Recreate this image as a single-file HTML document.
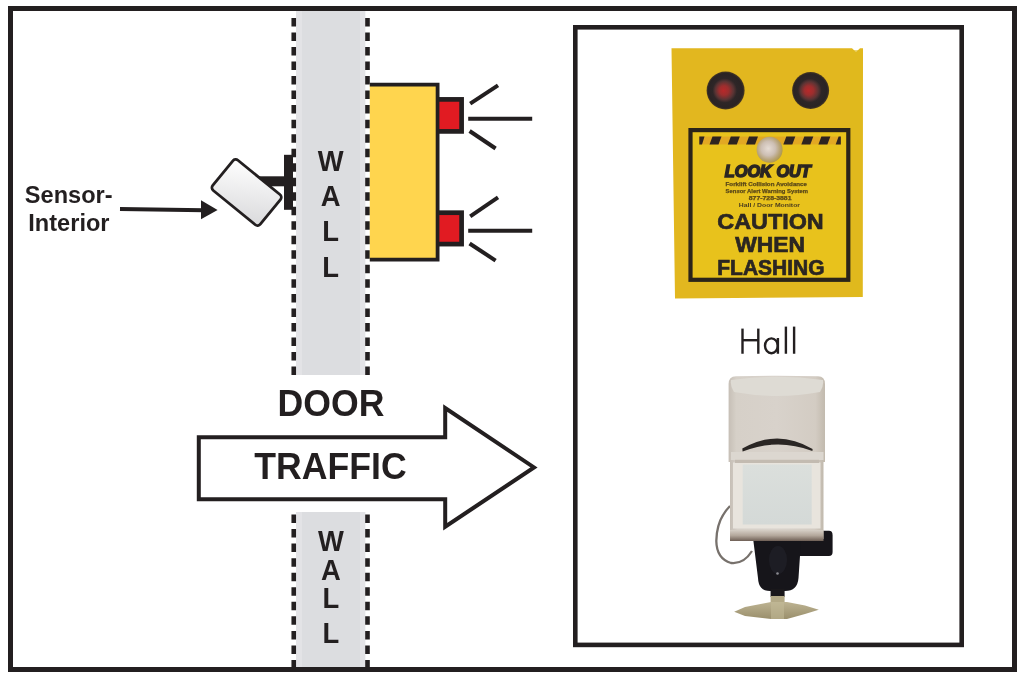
<!DOCTYPE html>
<html><head><meta charset="utf-8">
<style>
html,body{margin:0;padding:0;background:#fff;}
body{width:1024px;height:677px;overflow:hidden;position:relative;font-family:"Liberation Sans",sans-serif;}
svg{position:absolute;left:0;top:0;will-change:transform;}
</style></head>
<body>
<svg width="1024" height="677" viewBox="0 0 1024 677">
<defs>
<linearGradient id="sens" x1="0" y1="0" x2="1" y2="1">
<stop offset="0" stop-color="#ffffff"/><stop offset="1" stop-color="#d9d9db"/>
</linearGradient>
</defs>
<!-- upper wall -->
<rect x="296" y="11" width="69.2" height="364" fill="#dcdde0"/>
<rect x="296" y="11" width="6" height="364" fill="#e3e3e6"/>
<rect x="360" y="11" width="5.2" height="364" fill="#e3e3e6"/>
<line x1="293.75" y1="18" x2="293.75" y2="376" stroke="#231f20" stroke-width="4.6" stroke-dasharray="8.5 6.02"/>
<line x1="367.5" y1="18" x2="367.5" y2="376" stroke="#231f20" stroke-width="4.6" stroke-dasharray="8.5 6.02"/>
<!-- lower wall -->
<rect x="296" y="512" width="69.2" height="156" fill="#dcdde0"/>
<rect x="296" y="512" width="6" height="156" fill="#e3e3e6"/>
<rect x="360" y="512" width="5.2" height="156" fill="#e3e3e6"/>
<line x1="293.75" y1="514.5" x2="293.75" y2="668" stroke="#231f20" stroke-width="4.6" stroke-dasharray="8.5 6.05"/>
<line x1="367.5" y1="514.5" x2="367.5" y2="668" stroke="#231f20" stroke-width="4.6" stroke-dasharray="8.5 6.05"/>

<!-- yellow box -->
<path d="M369.8 84.6 H437.6 V259.6 H369.8" fill="#ffd54e" stroke="#231f20" stroke-width="3.8"/>
<!-- red lights -->
<rect x="437.6" y="97.05" width="26.35" height="36.7" fill="#231f20"/>
<rect x="439.4" y="101.75" width="19.85" height="27.3" fill="#e11b22"/>
<rect x="437.6" y="210.35" width="26.35" height="36.1" fill="#231f20"/>
<rect x="439.4" y="215.05" width="19.85" height="26.7" fill="#e11b22"/>
<g stroke="#231f20" stroke-width="4" fill="none">
<line x1="470.2" y1="103.6" x2="498" y2="85.3"/>
<line x1="468.2" y1="118.7" x2="532.2" y2="118.7"/>
<line x1="469.6" y1="131" x2="495.6" y2="148.5"/>
<line x1="470.2" y1="216.3" x2="498" y2="197.4"/>
<line x1="468.2" y1="230.8" x2="532.2" y2="230.8"/>
<line x1="469.6" y1="243.5" x2="495.6" y2="260.6"/>
</g>

<!-- wall text -->
<g font-family="'Liberation Sans', sans-serif" font-weight="bold" font-size="28.6" fill="#231f20" text-anchor="middle">
<text transform="translate(330.7 170.7) scale(0.958 1)">W</text>
<text transform="translate(330.7 206.3) scale(0.958 1)">A</text>
<text transform="translate(330.7 240.9) scale(0.958 1)">L</text>
<text transform="translate(330.7 277) scale(0.958 1)">L</text>
<text transform="translate(330.9 550.7) scale(0.958 1)">W</text>
<text transform="translate(330.9 580.3) scale(0.958 1)">A</text>
<text transform="translate(330.9 608.2) scale(0.958 1)">L</text>
<text transform="translate(330.9 643.4) scale(0.958 1)">L</text>
</g>

<!-- sensor mount -->
<rect x="256" y="176.3" width="30" height="10" fill="#231f20"/>
<rect x="284" y="154.8" width="9" height="55" fill="#231f20"/>
<g transform="translate(246.6 192.5) rotate(39.2)">
<rect x="-30.7" y="-19.5" width="61.4" height="39" rx="3.6" ry="3.6" fill="url(#sens)" stroke="#231f20" stroke-width="2.8"/>
</g>
<!-- pointer arrow -->
<line x1="120" y1="209" x2="204" y2="210.3" stroke="#231f20" stroke-width="4"/>
<polygon points="201,200.3 217.6,210 201,219.2" fill="#231f20"/>
<g font-family="'Liberation Sans', sans-serif" font-weight="bold" font-size="24.6" fill="#231f20" text-anchor="middle">
<text transform="translate(68.7 202.8) scale(0.958 1)">Sensor-</text>
<text transform="translate(68.9 231.2) scale(0.958 1)">Interior</text>
</g>

<!-- door arrow -->
<path d="M198.8 437.2 H445.2 V408.1 L534 467.4 L445.2 526.7 V499.2 H198.8 Z" fill="#fff" stroke="#231f20" stroke-width="4"/>
<g font-family="'Liberation Sans', sans-serif" font-weight="bold" font-size="37.2" fill="#231f20" text-anchor="middle">
<text transform="translate(331 416) scale(0.958 1)">DOOR</text>
<text transform="translate(330.5 479.3) scale(0.958 1)">TRAFFIC</text>
</g>

<!-- right panel box -->
<rect x="575.3" y="27.3" width="386.4" height="617.6" fill="none" stroke="#231f20" stroke-width="4.6"/>


<!-- ===== right panel: sign ===== -->
<defs>
<radialGradient id="lamp" cx="0.5" cy="0.5" r="0.5" fx="0.44" fy="0.5">
<stop offset="0" stop-color="#b8282a"/><stop offset="0.25" stop-color="#9c2e2e"/><stop offset="0.48" stop-color="#5a3434"/><stop offset="0.64" stop-color="#2e2627"/><stop offset="0.9" stop-color="#2a2324"/><stop offset="1" stop-color="#4a3a22"/>
</radialGradient>
<radialGradient id="coin" cx="0.45" cy="0.45" r="0.55">
<stop offset="0" stop-color="#e6dcd4"/><stop offset="0.5" stop-color="#cdbfb4"/><stop offset="0.8" stop-color="#b8a47a"/><stop offset="1" stop-color="#b09a50"/>
</radialGradient>
<linearGradient id="sbody" x1="0" y1="0" x2="1" y2="0">
<stop offset="0" stop-color="#c6bfb6"/><stop offset="0.08" stop-color="#d6d0c8"/><stop offset="0.5" stop-color="#d8d2cb"/><stop offset="0.9" stop-color="#d3ccc3"/><stop offset="1" stop-color="#c2baae"/>
</linearGradient>
<linearGradient id="lens" x1="0" y1="0" x2="0" y2="1">
<stop offset="0" stop-color="#dbdfdc"/><stop offset="1" stop-color="#d4d9d7"/>
</linearGradient>
<linearGradient id="sbot" x1="0" y1="0" x2="0" y2="1">
<stop offset="0" stop-color="#d6cfc6"/><stop offset="0.5" stop-color="#b3a79b"/><stop offset="1" stop-color="#6e5f55"/>
</linearGradient>
<linearGradient id="plate" x1="0" y1="0" x2="0" y2="1">
<stop offset="0" stop-color="#bdb392"/><stop offset="1" stop-color="#9a8f6c"/>
</linearGradient>
</defs>
<polygon points="671.5,48.3 852,48.3 856,52 860,48.3 863,48.3 862.7,297 675,298.4" fill="#e2b71f"/>
<rect x="850" y="50" width="12.5" height="247" fill="#e0ba1c" opacity="0.6"/>
<circle cx="725.6" cy="90.5" r="19" fill="url(#lamp)"/>
<circle cx="810.6" cy="90.5" r="18.5" fill="url(#lamp)"/>
<rect x="690.5" y="130.1" width="157.8" height="149.7" fill="#e8c21c" stroke="#2b2419" stroke-width="4.2"/>
<!-- hazard stripe -->
<rect x="699.3" y="136.6" width="141.5" height="7.8" fill="#e2a823"/>
<g fill="#2e2420">
<polygon points="699.3,136.6 704.5,136.6 702,144.4 699.3,144.4"/>
<polygon points="712.5,136.6 721.5,136.6 718.5,144.4 709.5,144.4"/>
<polygon points="730.8,136.6 739.8,136.6 736.8,144.4 727.8,144.4"/>
<polygon points="749,136.6 758,136.6 755,144.4 746,144.4"/>
<polygon points="786.3,136.6 795.3,136.6 792.3,144.4 783.3,144.4"/>
<polygon points="804.3,136.6 813.3,136.6 810.3,144.4 801.3,144.4"/>
<polygon points="821.4,136.6 830.4,136.6 827.4,144.4 818.4,144.4"/>
<polygon points="838.6,136.6 840.8,136.6 840.8,144.4 835.6,144.4"/>
</g>
<circle cx="769.6" cy="149.8" r="13" fill="url(#coin)"/>
<g fill="#2b2622" font-family="'Liberation Sans', sans-serif" font-weight="bold">
<text x="724.8" y="176.6" font-size="16.6" font-style="italic" textLength="86" lengthAdjust="spacingAndGlyphs" stroke="#2b2622" stroke-width="1.6">LOOK OUT</text>
<text x="725.6" y="186" font-size="5.6" textLength="81.4" lengthAdjust="spacingAndGlyphs" fill="#5a4818" stroke="#5a4818" stroke-width="0.25">Forklift Collision Avoidance</text>
<text x="725.6" y="192.6" font-size="5.6" textLength="82.4" lengthAdjust="spacingAndGlyphs" fill="#5a4818" stroke="#5a4818" stroke-width="0.25">Sensor Alert Warning System</text>
<text x="748.8" y="199.5" font-size="5.6" textLength="42.7" lengthAdjust="spacingAndGlyphs" fill="#5a4818" stroke="#5a4818" stroke-width="0.25">877-728-3881</text>
<text x="738.8" y="207" font-size="5.8" textLength="61.2" lengthAdjust="spacingAndGlyphs" fill="#4a3c1e">Hall / Door Monitor</text>
<text x="717.3" y="228.8" font-size="22.7" textLength="106.4" lengthAdjust="spacingAndGlyphs" stroke="#2b2622" stroke-width="0.7">CAUTION</text>
<text x="735.2" y="251.9" font-size="22.7" textLength="69.9" lengthAdjust="spacingAndGlyphs" stroke="#2b2622" stroke-width="0.7">WHEN</text>
<text x="717.3" y="274.5" font-size="21.6" textLength="107.2" lengthAdjust="spacingAndGlyphs" stroke="#2b2622" stroke-width="0.7">FLASHING</text>
</g>

<!-- Hall -->
<g fill="none" stroke="#231f20" stroke-width="2.4">
<line x1="742.5" y1="328.6" x2="742.5" y2="353.75"/>
<line x1="758.3" y1="328.6" x2="758.3" y2="353.75"/>
<line x1="742.5" y1="340.2" x2="758.3" y2="340.2"/>
<ellipse cx="771.4" cy="345.8" rx="6.4" ry="7.4"/>
<line x1="777.9" y1="338" x2="777.9" y2="353.75"/>
<line x1="785.9" y1="326.6" x2="785.9" y2="353.75"/>
<line x1="794.1" y1="326.6" x2="794.1" y2="353.75"/>
</g>

<!-- motion sensor -->
<path d="M730 506 C722 514 716.5 524 716.3 541 C716.5 552 721 560 731 563 C740 564 747 559 752 551" fill="none" stroke="#77716c" stroke-width="2.3"/>
<path d="M799 530.7 H829 Q832.6 530.7 832.6 535 V552 Q832.6 556 829 556 H799 Z" fill="#17151a"/>
<path d="M753.4 541 H801 L798.5 578 Q797.5 591 785 591 H770 Q758.5 591 758 578 Z" fill="#16151a"/>
<ellipse cx="778" cy="560" rx="9" ry="14" fill="#23232c" opacity="0.6"/>
<circle cx="777.5" cy="573.5" r="1.3" fill="#8a8a90"/>
<rect x="770.6" y="589" width="14" height="8" fill="#1a181b"/>
<rect x="770.6" y="596" width="14" height="7" fill="#b3a986"/>
<polygon points="734.2,611.8 745,607 771,602 787,602 805,605.5 818.8,609.7 805,614 787,619 771,619 745,616" fill="url(#plate)"/>
<rect x="771" y="602" width="13" height="17" fill="#c2b996" opacity="0.6"/>
<path d="M728.6 384 Q728.6 376.6 736 376.3 Q777 375.2 818 376.3 Q825 376.6 825 384 V462 H728.6 Z" fill="url(#sbody)"/>
<path d="M731 380 Q777 373.5 823 380 Q824 386 820 392 Q777 400 734 392 Q730 386 731 380 Z" fill="#dedbd4"/>
<path d="M742.3 448.6 Q777.5 428.2 812.6 449 L812.4 451 Q777.5 437.8 742.6 451.4 Z" fill="#2a2624"/>
<rect x="731" y="452" width="92.5" height="8" fill="#dcd7d0"/>
<rect x="730" y="460" width="93.5" height="79" fill="url(#sbody)"/>
<rect x="733" y="462.5" width="87.5" height="66" fill="#e8e4dd"/>
<rect x="735" y="459.8" width="84" height="3.2" fill="#c3bbb1"/>
<rect x="742.7" y="464.5" width="69" height="60" fill="url(#lens)"/>
<rect x="730" y="530" width="93.5" height="11" fill="url(#sbot)"/>

<!-- outer border -->
<rect x="10.5" y="8.5" width="1004" height="661" fill="none" stroke="#231f20" stroke-width="5"/>
</svg>
</body></html>
